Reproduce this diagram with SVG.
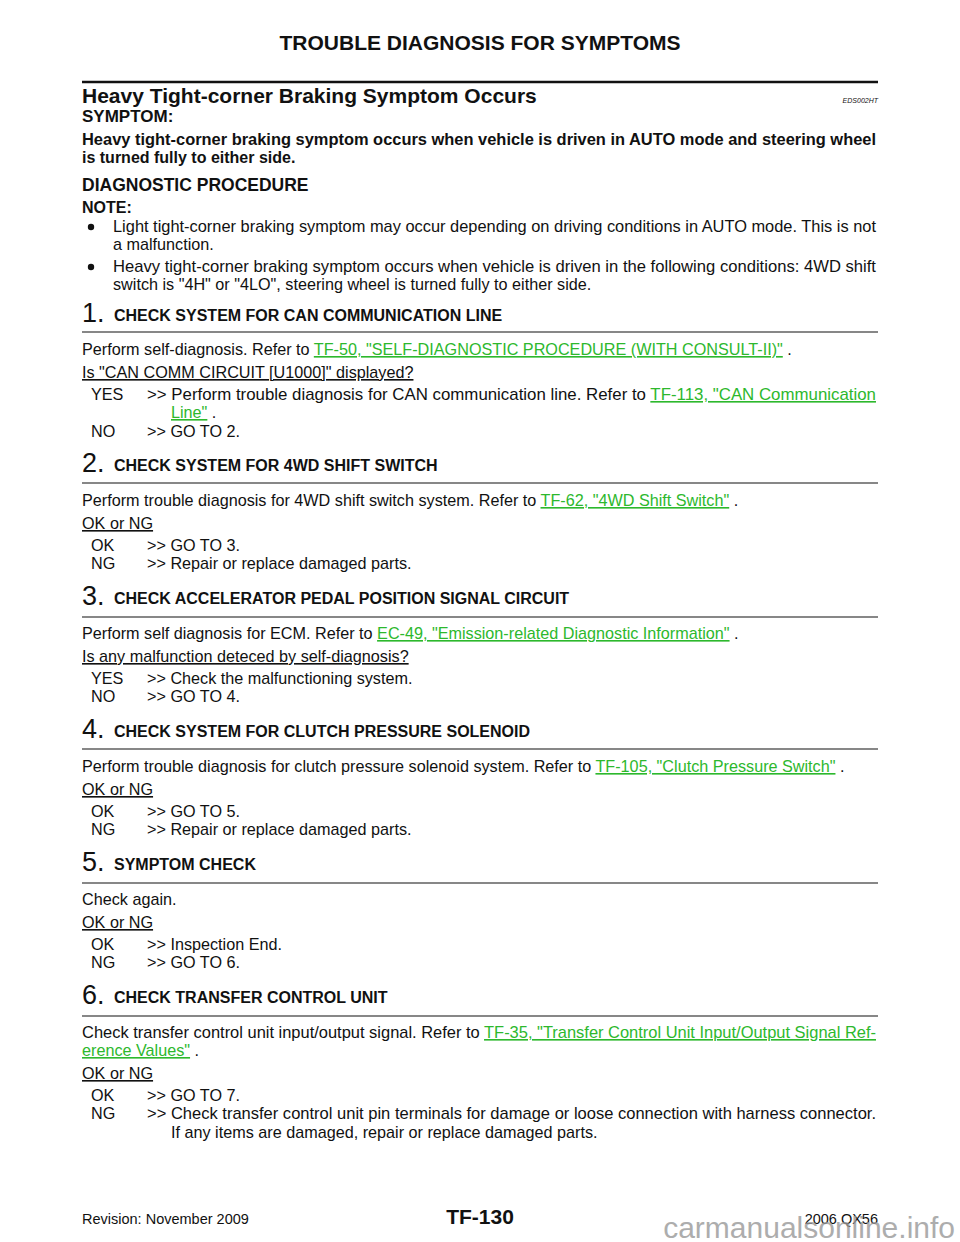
<svg xmlns="http://www.w3.org/2000/svg" width="960" height="1242" viewBox="0 0 960 1242">
<style>
text{font-family:"Liberation Sans",Arial,sans-serif;fill:#111}
.b{font-weight:bold}
.t{font-size:16.2px}
.h{font-size:16px;font-weight:bold}
.n{font-size:27px}
.l{fill:#2db82d;text-decoration:underline}
.u{text-decoration:underline}
.r{stroke:#111;stroke-width:1.2}
</style>
<rect width="960" height="1242" fill="#fff"/>
<text x="480" y="50" class="b" font-size="21" text-anchor="middle">TROUBLE DIAGNOSIS FOR SYMPTOMS</text>
<line x1="82" y1="82" x2="878" y2="82" stroke="#111" stroke-width="2.5"/>
<text x="82" y="103" class="b" font-size="21">Heavy Tight-corner Braking Symptom Occurs</text>
<text x="878" y="103" font-size="7" font-style="italic" text-anchor="end">EDS002HT</text>
<text x="82" y="122" class="b" font-size="17">SYMPTOM:</text>
<text x="82" y="145" class="h" textLength="794" lengthAdjust="spacingAndGlyphs">Heavy tight-corner braking symptom occurs when vehicle is driven in AUTO mode and steering wheel</text>
<text x="82" y="163" class="h">is turned fully to either side.</text>
<text x="82" y="191" class="b" font-size="17.5">DIAGNOSTIC PROCEDURE</text>
<text x="82" y="213" class="h">NOTE:</text>
<circle cx="91" cy="227" r="3.2" fill="#111"/>
<text x="113" y="232" class="t" textLength="763" lengthAdjust="spacingAndGlyphs">Light tight-corner braking symptom may occur depending on driving conditions in AUTO mode.  This is not</text>
<text x="113" y="250" class="t">a malfunction.</text>
<circle cx="91" cy="267" r="3.2" fill="#111"/>
<text x="113" y="272" class="t" textLength="763" lengthAdjust="spacingAndGlyphs">Heavy tight-corner braking symptom occurs when vehicle is driven in the following conditions: 4WD shift</text>
<text x="113" y="290" class="t">switch is "4H" or "4LO", steering wheel is turned fully to either side.</text>

<g id="step1">
<text x="82" y="322" class="n">1.</text><text x="114" y="321" class="h">CHECK SYSTEM FOR CAN COMMUNICATION LINE</text>
<line x1="82" y1="332" x2="878" y2="332" class="r"/>
<text x="82" y="355" class="t">Perform self-diagnosis.  Refer to <tspan class="l">TF-50, "SELF-DIAGNOSTIC PROCEDURE (WITH CONSULT-II)"</tspan> .</text>
<text x="82" y="378" class="t u">Is "CAN COMM CIRCUIT [U1000]" displayed?</text>
<text x="91" y="400" class="t">YES</text><text x="147" y="400" class="t" textLength="729" lengthAdjust="spacingAndGlyphs">&gt;&gt; Perform trouble diagnosis for CAN communication line.  Refer to <tspan class="l">TF-113, "CAN Communication</tspan></text>
<text x="171" y="418" class="t"><tspan class="l">Line"</tspan> .</text>
<text x="91" y="437" class="t">NO</text><text x="147" y="437" class="t">&gt;&gt; GO TO 2.</text>
</g>
<g id="step2">
<text x="82" y="472" class="n">2.</text><text x="114" y="471" class="h">CHECK SYSTEM FOR 4WD SHIFT SWITCH</text>
<line x1="82" y1="483" x2="878" y2="483" class="r"/>
<text x="82" y="506" class="t">Perform trouble diagnosis for 4WD shift switch system. Refer to <tspan class="l">TF-62, "4WD Shift Switch"</tspan> .</text>
<text x="82" y="529" class="t u">OK or NG</text>
<text x="91" y="551" class="t">OK</text><text x="147" y="551" class="t">&gt;&gt; GO TO 3.</text>
<text x="91" y="569" class="t">NG</text><text x="147" y="569" class="t">&gt;&gt; Repair or replace damaged parts.</text>
</g>
<g id="step3">
<text x="82" y="605" class="n">3.</text><text x="114" y="604" class="h">CHECK ACCELERATOR PEDAL POSITION SIGNAL CIRCUIT</text>
<line x1="82" y1="617" x2="878" y2="617" class="r"/>
<text x="82" y="639" class="t">Perform self diagnosis for ECM.  Refer to <tspan class="l">EC-49, "Emission-related Diagnostic Information"</tspan> .</text>
<text x="82" y="662" class="t u">Is any malfunction deteced by self-diagnosis?</text>
<text x="91" y="684" class="t">YES</text><text x="147" y="684" class="t">&gt;&gt; Check the malfunctioning system.</text>
<text x="91" y="702" class="t">NO</text><text x="147" y="702" class="t">&gt;&gt; GO TO 4.</text>
</g>
<g id="step4">
<text x="82" y="738" class="n">4.</text><text x="114" y="737" class="h">CHECK SYSTEM FOR CLUTCH PRESSURE SOLENOID</text>
<line x1="82" y1="749" x2="878" y2="749" class="r"/>
<text x="82" y="772" class="t">Perform trouble diagnosis for clutch pressure solenoid system. Refer to <tspan class="l">TF-105, "Clutch Pressure Switch"</tspan> .</text>
<text x="82" y="795" class="t u">OK or NG</text>
<text x="91" y="817" class="t">OK</text><text x="147" y="817" class="t">&gt;&gt; GO TO 5.</text>
<text x="91" y="835" class="t">NG</text><text x="147" y="835" class="t">&gt;&gt; Repair or replace damaged parts.</text>
</g>
<g id="step5">
<text x="82" y="871" class="n">5.</text><text x="114" y="870" class="h">SYMPTOM CHECK</text>
<line x1="82" y1="883" x2="878" y2="883" class="r"/>
<text x="82" y="905" class="t">Check again.</text>
<text x="82" y="928" class="t u">OK or NG</text>
<text x="91" y="950" class="t">OK</text><text x="147" y="950" class="t">&gt;&gt; Inspection End.</text>
<text x="91" y="968" class="t">NG</text><text x="147" y="968" class="t">&gt;&gt; GO TO 6.</text>
</g>
<g id="step6">
<text x="82" y="1004" class="n">6.</text><text x="114" y="1003" class="h">CHECK TRANSFER CONTROL UNIT</text>
<line x1="82" y1="1016" x2="878" y2="1016" class="r"/>
<text x="82" y="1038" class="t" textLength="794" lengthAdjust="spacingAndGlyphs">Check transfer control unit input/output signal. Refer to <tspan class="l">TF-35, "Transfer Control Unit Input/Output Signal Ref-</tspan></text>
<text x="82" y="1056" class="t"><tspan class="l">erence Values"</tspan> .</text>
<text x="82" y="1079" class="t u">OK or NG</text>
<text x="91" y="1101" class="t">OK</text><text x="147" y="1101" class="t">&gt;&gt; GO TO 7.</text>
<text x="91" y="1119" class="t">NG</text><text x="147" y="1119" class="t" textLength="729" lengthAdjust="spacingAndGlyphs">&gt;&gt; Check transfer control unit pin terminals for damage or loose connection with harness connector.</text>
<text x="171" y="1138" class="t">If any items are damaged, repair or replace damaged parts.</text>
</g>
<text x="82" y="1224" font-size="14.5">Revision: November 2009</text>
<text x="480" y="1224" class="b" font-size="21" text-anchor="middle">TF-130</text>
<text x="878" y="1224" font-size="14.5" text-anchor="end">2006 QX56</text>
<text x="955" y="1238" font-size="30" text-anchor="end" style="fill:#999;opacity:0.8">carmanualsonline.info</text>
</svg>
